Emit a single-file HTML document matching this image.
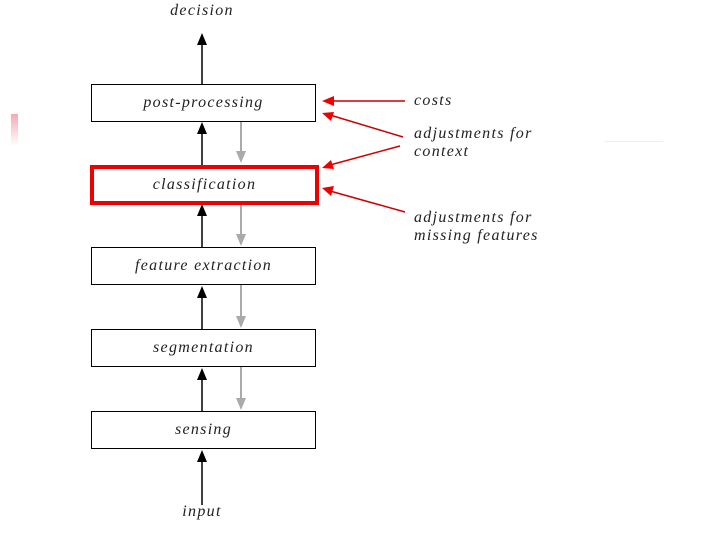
<!DOCTYPE html>
<html><head><style>
body{margin:0;width:720px;height:540px;background:#fff;overflow:hidden;position:relative;font-family:"Liberation Serif",serif;font-style:italic;}
.t{position:absolute;font-size:16px;letter-spacing:1.3px;color:#222;white-space:nowrap;}
.b{position:absolute;border:1.5px solid #000;box-sizing:border-box;display:flex;align-items:center;justify-content:center;font-size:16px;letter-spacing:1.3px;color:#222;}
</style></head><body>
<div style="position:absolute;left:11px;top:114px;width:7px;height:32px;background:linear-gradient(#f4aab0,#fff)"></div>
<svg width="720" height="540" style="position:absolute;left:0;top:0">
<g stroke="#000" stroke-width="1.5">
<line x1="202" y1="40" x2="202" y2="84"/>
<line x1="202" y1="124" x2="202" y2="166"/>
<line x1="202" y1="206" x2="202" y2="247"/>
<line x1="202" y1="288" x2="202" y2="329"/>
<line x1="202" y1="370" x2="202" y2="411"/>
<line x1="202" y1="452" x2="202" y2="505"/>
</g>
<g fill="#000">
<polygon points="202,33 197,45 207,45"/>
<polygon points="202,122 197,134 207,134"/>
<polygon points="202,204 197,216 207,216"/>
<polygon points="202,286 197,298 207,298"/>
<polygon points="202,368 197,380 207,380"/>
<polygon points="202,450 197,462 207,462"/>
</g>
<g stroke="#aaa" stroke-width="2">
<line x1="241" y1="121" x2="241" y2="160"/>
<line x1="241" y1="205" x2="241" y2="243"/>
<line x1="241" y1="285" x2="241" y2="325"/>
<line x1="241" y1="367" x2="241" y2="407"/>
</g>
<g fill="#aaa">
<polygon points="241,163 236,151 246,151"/>
<polygon points="241,246 236,234 246,234"/>
<polygon points="241,328 236,316 246,316"/>
<polygon points="241,410 236,398 246,398"/>
</g>
<g stroke="#c00" stroke-width="1.5">
<line x1="405" y1="101" x2="330" y2="101"/>
<line x1="403" y1="137" x2="330" y2="115"/>
<line x1="400" y1="146" x2="330" y2="165"/>
<line x1="405" y1="212" x2="330" y2="191"/>
</g>
<g fill="#e00">
<polygon points="322,101 334,96 334,106"/>
<polygon points="322,113 334,112 331,121"/>
<polygon points="322,168 331,160 334,169"/>
<polygon points="322,188 334,186 331,196"/>
</g>
</svg>
<div class="t" style="left:152px;top:2px;width:100px;text-align:center">decision</div>
<div class="b" style="left:91px;top:84px;width:225px;height:38px">post-processing</div>
<div class="b" style="left:90px;top:165px;width:229px;height:40px;border:4px solid #e00">classification</div>
<div class="b" style="left:91px;top:247px;width:225px;height:38px">feature extraction</div>
<div class="b" style="left:91px;top:329px;width:225px;height:38px">segmentation</div>
<div class="b" style="left:91px;top:411px;width:225px;height:38px">sensing</div>
<div class="t" style="left:152px;top:503px;width:100px;text-align:center">input</div>
<div class="t" style="left:414px;top:92px">costs</div>
<div class="t" style="left:414px;top:125px;line-height:18px">adjustments for<br>context</div>
<div class="t" style="left:414px;top:209px;line-height:18px">adjustments for<br>missing features</div>
<div style="position:absolute;left:605px;top:141px;width:58px;height:1px;background:#eee"></div>
</body></html>
